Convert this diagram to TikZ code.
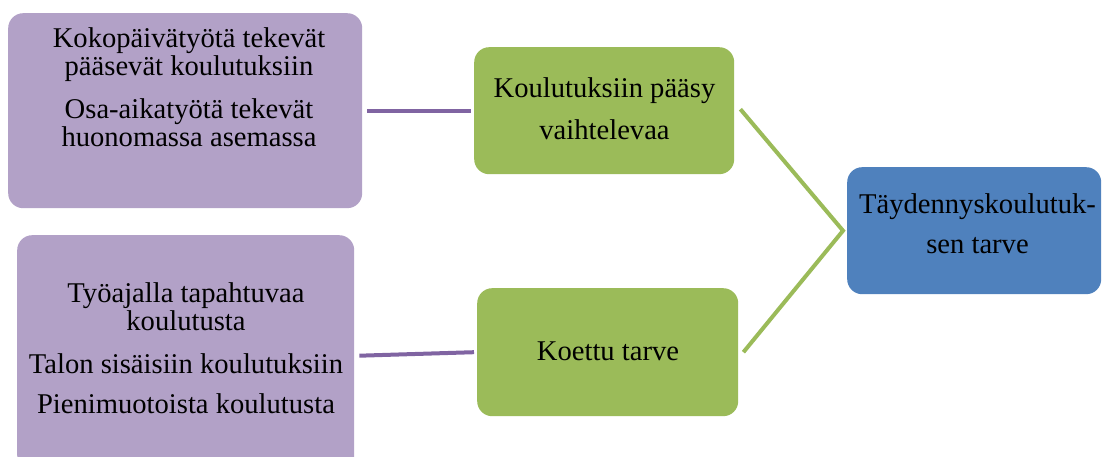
\documentclass[tikz,border=0pt]{standalone}
\usepackage{fontspec}
\setmainfont{Liberation Serif}
\definecolor{lilac}{HTML}{B2A1C7}
\definecolor{lilacline}{HTML}{8064A2}
\definecolor{leaf}{HTML}{9BBB59}
\definecolor{steel}{HTML}{4F81BD}
\begin{document}
\begin{tikzpicture}[x=1pt,y=-1pt,
  box/.style={rounded corners=15pt, inner sep=0pt, anchor=north west},
  txt/.style={align=center, inner sep=0pt, font=\fontsize{28.6}{28}\selectfont, anchor=base},
  link/.style={line width=4pt, line cap=butt}]
\useasboundingbox (0,0) rectangle (1102,457);
\clip (0,0) rectangle (1102,457);
% boxes
\node[box, fill=lilac, minimum width=354pt, minimum height=195pt] (a) at (8,13) {};
\node[box, fill=lilac, minimum width=337pt, minimum height=235pt] (b) at (17,235) {};
\node[box, fill=leaf, minimum width=260pt, minimum height=127pt] (g1) at (474,47) {};
\node[box, fill=leaf, minimum width=261pt, minimum height=128pt] (g2) at (477,288) {};
\node[box, fill=steel, minimum width=254pt, minimum height=127pt] (c) at (847,167) {};
% texts, each placed by the baseline of its last line
\node[txt] (at) at (189,147) {Kokopäivätyötä tekevät\\pääsevät koulutuksiin\\[15pt]Osa-aikatyötä tekevät\\huonomassa asemassa};
\node[txt] (bt) at (186,413) {Työajalla tapahtuvaa\\koulutusta\\[15pt]Talon sisäisiin koulutuksiin\\[12pt]Pienimuotoista koulutusta};
\node[txt] (g1t) at (604.5,140) {Koulutuksiin pääsy\\[14pt]vaihtelevaa};
\node[txt] (g2t) at (608,360) {Koettu tarve};
\node[txt] (ct) at (977.5,253) {Täydennyskoulutuk-\\[12pt]sen tarve};
% connectors
\draw[link, lilacline, shorten <=5pt, shorten >=3pt] (a) -- (g1);
\draw[link, lilacline] ([xshift=5pt,yshift=-3pt]b.east) -- ([xshift=-3pt]g2.west);
\coordinate (tip) at ([xshift=-4pt]c.west);
\draw[link, leaf, miter limit=20] ([xshift=6pt,yshift=1.5pt]g1.east) -- (tip) -- ([xshift=5pt]g2.east);
\end{tikzpicture}
\end{document}
